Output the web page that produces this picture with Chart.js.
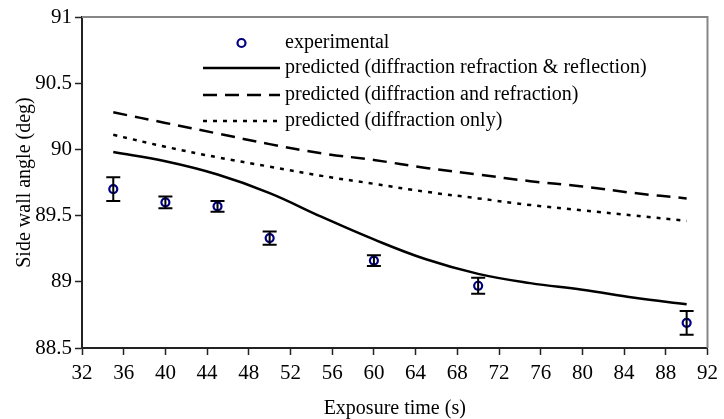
<!DOCTYPE html>
<html>
<head>
<meta charset="utf-8">
<script src="https://cdn.jsdelivr.net/npm/chart.js@4.4.1/dist/chart.umd.min.js"></script>
<style>
  html, body { margin:0; padding:0; background:#fff; }
  #wrap { width:724px; height:419px; position:relative; }
</style>
</head>
<body>
<div id="wrap"><canvas id="chart"></canvas></div>
<script>
// exposure times (s) for the model curves
const modelTimes = [35, 40, 45, 50, 55, 60, 65, 70, 75, 80, 85, 90];
// predicted side wall angle (deg)
const fullModel = [89.98, 89.91, 89.81, 89.67, 89.49, 89.32, 89.17, 89.06, 88.99, 88.94, 88.88, 88.83];
const refrModel = [90.28, 90.20, 90.12, 90.04, 89.97, 89.92, 89.86, 89.81, 89.76, 89.72, 89.67, 89.63];
const diffModel = [90.11, 90.02, 89.94, 89.87, 89.80, 89.74, 89.68, 89.63, 89.58, 89.54, 89.50, 89.46];
// measured angles with error
const expTimes  = [35, 40, 45, 50, 60, 70, 90];
const expAngles = [89.70, 89.60, 89.57, 89.33, 89.16, 88.97, 88.69];
const expErrors = [0.09, 0.045, 0.04, 0.05, 0.04, 0.06, 0.09];

const seriesLabels = [
  'experimental',
  'predicted (diffraction refraction & reflection)',
  'predicted (diffraction and refraction)',
  'predicted (diffraction only)'
];

const serif = "'Liberation Serif', 'Times New Roman', serif";
const pts = (xs, ys) => xs.map((x, i) => ({x, y: ys[i]}));

// error bars for the experimental points
const errorBars = {
  id: 'errorBars',
  afterDatasetsDraw(chart) {
    const {ctx, scales: {x, y}} = chart;
    ctx.save();
    ctx.strokeStyle = '#000';
    ctx.lineWidth = 2;
    expTimes.forEach((t, i) => {
      const px = x.getPixelForValue(t);
      const top = y.getPixelForValue(expAngles[i] + expErrors[i]);
      const bot = y.getPixelForValue(expAngles[i] - expErrors[i]);
      ctx.beginPath();
      ctx.moveTo(px, top); ctx.lineTo(px, bot);
      ctx.moveTo(px - 7, top); ctx.lineTo(px + 7, top);
      ctx.moveTo(px - 7, bot); ctx.lineTo(px + 7, bot);
      ctx.stroke();
    });
    ctx.restore();
  }
};

// gray frame on top and right of the plot area
const frame = {
  id: 'frame',
  beforeDatasetsDraw(chart) {
    const {ctx, chartArea: a} = chart;
    ctx.save();
    ctx.strokeStyle = '#868686';
    ctx.lineWidth = 2;
    ctx.beginPath();
    ctx.moveTo(a.left, a.top); ctx.lineTo(a.right, a.top); ctx.lineTo(a.right, a.bottom);
    ctx.stroke();
    ctx.restore();
  }
};

// legend drawn inside the plot
const insideLegend = {
  id: 'insideLegend',
  afterDraw(chart) {
    const {ctx} = chart;
    const x0 = 203, x1 = 280, tx = 285;
    const rows = [43, 68, 95, 121];
    ctx.save();
    chart.data.datasets.forEach((ds, i) => {
      const yy = rows[i];
      if (i === 0) {
        ctx.beginPath();
        ctx.arc((x0 + x1) / 2, yy, 4, 0, Math.PI * 2);
        ctx.strokeStyle = ds.borderColor; ctx.lineWidth = 2.2;
        ctx.stroke();
      } else {
        ctx.beginPath();
        ctx.setLineDash(ds.borderDash || []);
        ctx.strokeStyle = ds.borderColor; ctx.lineWidth = ds.borderWidth;
        ctx.moveTo(x0, yy); ctx.lineTo(x1, yy);
        ctx.stroke();
        ctx.setLineDash([]);
      }
      ctx.fillStyle = '#000';
      ctx.font = '20px ' + serif;
      ctx.textBaseline = 'middle';
      ctx.textAlign = 'left';
      ctx.fillText(ds.label, tx, yy);
    });
    ctx.restore();
  }
};

const lineStyle = {showLine: true, pointRadius: 0, borderColor: '#000', borderWidth: 2.5, tension: 0.4, fill: false};

new Chart(document.getElementById('chart'), {
  type: 'scatter',
  data: {
    datasets: [
      {label: seriesLabels[0], data: pts(expTimes, expAngles), showLine: false,
       pointStyle: 'circle', pointRadius: 4, borderWidth: 2.2,
       borderColor: '#000080', backgroundColor: 'rgba(0,0,0,0)'},
      {label: seriesLabels[1], data: pts(modelTimes, fullModel), ...lineStyle},
      {label: seriesLabels[2], data: pts(modelTimes, refrModel), ...lineStyle, borderDash: [14, 8]},
      {label: seriesLabels[3], data: pts(modelTimes, diffModel), ...lineStyle, borderDash: [4, 6]}
    ]
  },
  options: {
    responsive: true,
    maintainAspectRatio: false,
    animation: false,
    layout: {padding: {top: 17, right: 15, left: 0, bottom: 0}},
    plugins: {legend: {display: false}, tooltip: {enabled: false}},
    scales: {
      x: {
        type: 'linear', min: 32, max: 92,
        ticks: {stepSize: 4, color: '#000', font: {family: serif, size: 21}, padding: 6, maxRotation: 0},
        grid: {drawOnChartArea: false, drawTicks: true, tickLength: 7, tickColor: '#222', tickWidth: 1.5},
        border: {color: '#222', width: 2},
        title: {display: true, text: 'Exposure time (s)', color: '#000', font: {family: serif, size: 20, lineHeight: 1}, padding: {top: 0, bottom: 0}},
        afterFit(s) { s.height = 71; }
      },
      y: {
        min: 88.5, max: 91,
        ticks: {stepSize: 0.5, color: '#000', font: {family: serif, size: 21}, padding: 3,
                callback: v => String(Math.round(v * 10) / 10)},
        grid: {drawOnChartArea: false, drawTicks: true, tickLength: 7, tickColor: '#222', tickWidth: 1.5},
        border: {color: '#222', width: 2},
        title: {display: true, text: 'Side wall angle (deg)', color: '#000', font: {family: serif, size: 20}, padding: {top: 13, bottom: 0}},
        afterFit(s) { s.width = 82; }
      }
    }
  },
  plugins: [frame, errorBars, insideLegend]
});
</script>
</body>
</html>
